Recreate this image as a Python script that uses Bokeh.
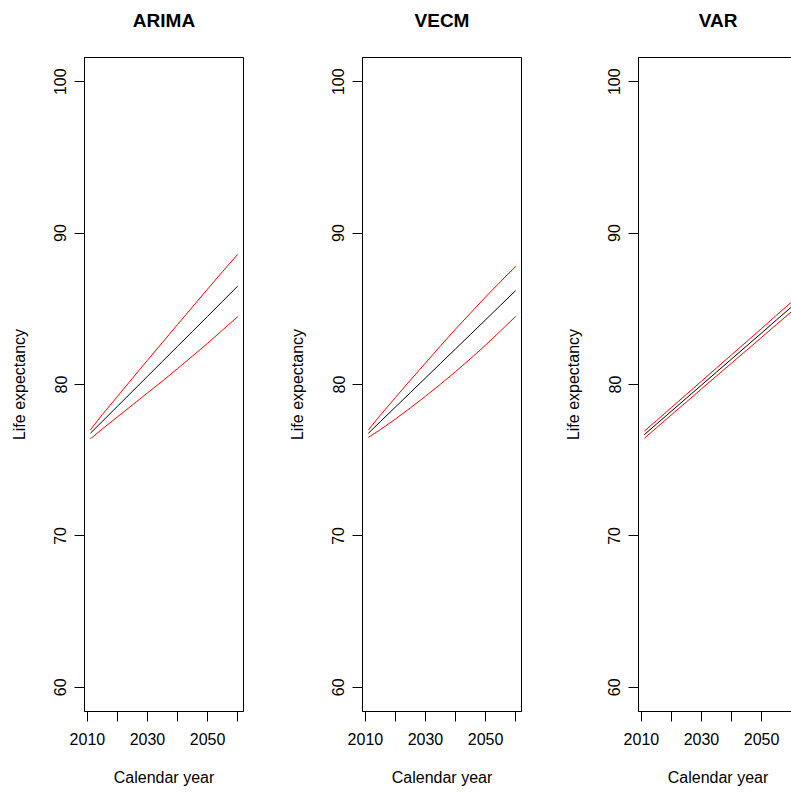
from bokeh.plotting import figure
from bokeh.layouts import row
from bokeh.models import FixedTicker, Range1d, Title
from bokeh.embed import file_html
from bokeh.resources import INLINE

# ---- data ----
years = [2011, 2015, 2020, 2025, 2030, 2035, 2040, 2045, 2050, 2055, 2060]

arima_mean = [76.78, 77.57, 78.56, 79.55, 80.54, 81.53, 82.52, 83.51, 84.50, 85.50, 86.49]
arima_upper = [77.00, 78.02, 79.21, 80.41, 81.60, 82.78, 83.96, 85.13, 86.30, 87.46, 88.59]
arima_lower = [76.41, 77.07, 77.86, 78.65, 79.44, 80.23, 81.05, 81.88, 82.72, 83.60, 84.48]

vecm_mean = [76.78, 77.55, 78.51, 79.47, 80.43, 81.39, 82.35, 83.31, 84.27, 85.24, 86.20]
vecm_upper = [77.00, 77.98, 79.14, 80.29, 81.42, 82.55, 83.66, 84.72, 85.78, 86.80, 87.81]
vecm_lower = [76.51, 77.02, 77.72, 78.46, 79.22, 80.02, 80.85, 81.71, 82.60, 83.54, 84.50]

var_mean = [76.69, 77.38, 78.24, 79.10, 79.96, 80.82, 81.68, 82.54, 83.40, 84.27, 85.13]
var_upper = [76.92, 77.61, 78.48, 79.35, 80.22, 81.09, 81.96, 82.83, 83.70, 84.58, 85.45]
var_lower = [76.45, 77.14, 78.00, 78.85, 79.71, 80.56, 81.41, 82.26, 83.11, 83.97, 84.82]

titles = ["ARIMA", "VECM", "VAR"]
x_ticks = [2010, 2020, 2030, 2040, 2050, 2060]
x_tick_labels = ["2010", "", "2030", "", "2050", ""]
y_ticks = [60, 70, 80, 90, 100]
y_lim = [60, 100]
x_label = "Calendar year"
y_label = "Life expectancy"

FONT = "Liberation Sans"
H = 793

# R-style 4% axis extension
xspan = years[-1] - years[0]
X0, X1 = years[0] - 0.04 * xspan, years[-1] + 0.04 * xspan
yspan = y_lim[1] - y_lim[0]
Y0, Y1 = y_lim[0] - 0.04 * yspan, y_lim[1] + 0.04 * yspan


def panel(name, mean, upper, lower, width, bl, br):
    p = figure(width=width, height=H, x_range=Range1d(X0, X1), y_range=Range1d(Y0, Y1),
               output_backend="svg", toolbar_location=None, title=name,
               min_border_left=bl, min_border_right=br,
               min_border_top=56, min_border_bottom=82)
    p.background_fill_color = "white"
    p.border_fill_color = "white"
    p.outline_line_color = "black"
    p.outline_line_width = 1
    p.xgrid.visible = False
    p.ygrid.visible = False

    p.title.text_font = FONT
    p.title.text_font_size = "19px"
    p.title.text_font_style = "bold"
    p.title.text_color = "black"
    p.title.align = "center"
    p.title.standoff = 15
    # empty spacer between the title and the plot frame
    p.add_layout(Title(text=" ", text_font_size="1px", standoff=16), "above")

    for ax in (p.xaxis[0], p.yaxis[0]):
        ax.axis_line_color = "black"
        ax.major_tick_line_color = "black"
        ax.major_tick_out = 10
        ax.major_tick_in = 0
        ax.minor_tick_line_color = None
        ax.major_label_text_font = FONT
        ax.major_label_text_font_size = "16px"
        ax.major_label_text_color = "black"
        ax.axis_label_text_font = FONT
        ax.axis_label_text_font_size = "16px"
        ax.axis_label_text_font_style = "normal"
        ax.axis_label_text_color = "black"

    p.xaxis.ticker = FixedTicker(ticks=x_ticks)
    p.xaxis.major_label_overrides = {t: s for t, s in zip(x_ticks, x_tick_labels)}
    p.xaxis.major_label_standoff = 11
    p.xaxis.axis_label = x_label
    p.xaxis.axis_label_standoff = 21

    p.yaxis.ticker = FixedTicker(ticks=y_ticks)
    p.yaxis.major_label_orientation = "vertical"
    p.yaxis.major_label_standoff = 8
    p.yaxis.axis_label = y_label
    p.yaxis.axis_label_standoff = 24

    p.line(years, mean, line_color="black", line_width=1)
    p.line(years, upper, line_color="red", line_width=1)
    p.line(years, lower, line_color="red", line_width=1)
    return p


p1 = panel(titles[0], arima_mean, arima_upper, arima_lower, 277, 84, 34)
p2 = panel(titles[1], vecm_mean, vecm_upper, vecm_lower, 277, 85, 33)
p3 = panel(titles[2], var_mean, var_upper, var_lower, 277, 84, 34)

layout = row(p1, p2, p3, width=791, height=H, styles={"overflow": "hidden"})

open("out.html", "w").write(file_html(layout, INLINE))
